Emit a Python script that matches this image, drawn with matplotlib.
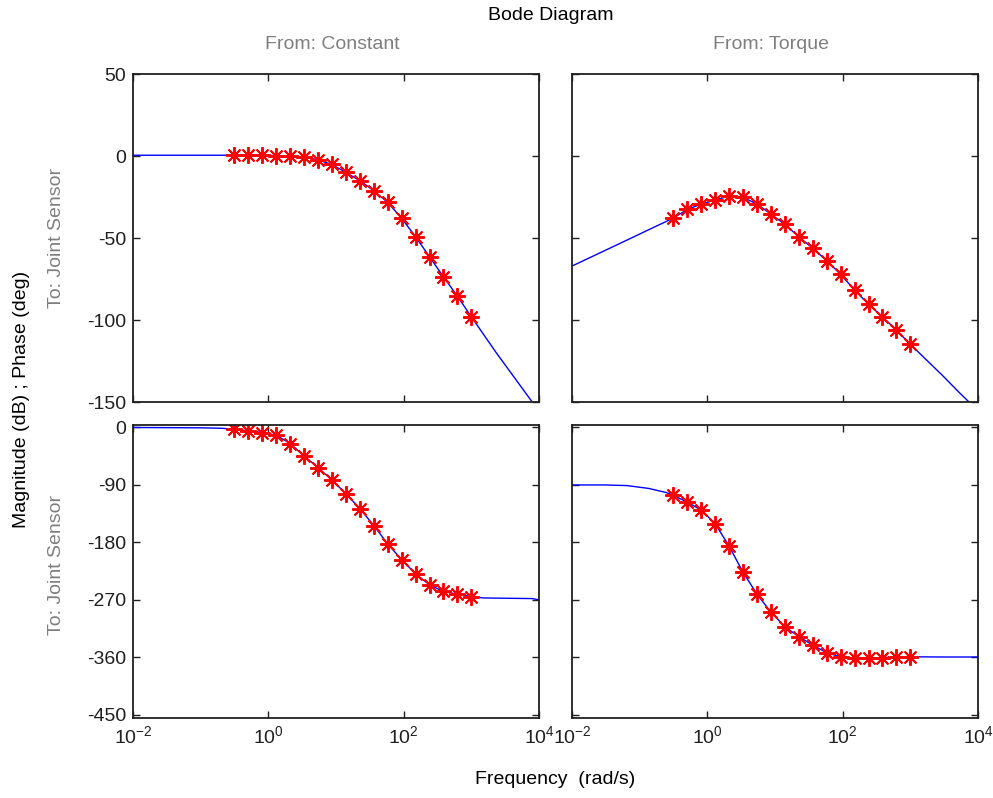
import matplotlib
matplotlib.use("Agg")
import matplotlib.pyplot as plt
from matplotlib.ticker import LogLocator, NullLocator

plt.rcParams['font.family'] = ['Liberation Sans', 'DejaVu Sans']
plt.rcParams['mathtext.default'] = 'regular'
plt.rcParams['axes.unicode_minus'] = False

# measured frequencies (rad/s) for the red stars
w_data = [0.316, 0.508, 0.816, 1.31, 2.11, 3.38, 5.43, 8.73, 14.0, 22.5,
          36.2, 58.2, 93.5, 150, 241, 387, 622, 1000]

# From: Constant -> magnitude (dB) and phase (deg)
mag_const = [0.5, 0.5, 0.4, 0.3, 0.0, -0.5, -2.4, -5.1, -10.0, -15.0,
             -21.1, -28.3, -38.0, -49.2, -61.4, -73.6, -85.4, -98.0]
ph_const = [-2.6, -5.2, -7.9, -12.1, -25.2, -44.6, -62.9, -82.3, -103.8, -126.9,
            -153.6, -182.5, -207.1, -229.2, -246.5, -256.9, -261.1, -264.8]

# From: Torque -> magnitude (dB) and phase (deg)
mag_torq = [-37.8, -32.5, -29.3, -26.8, -24.4, -25.2, -29.3, -35.4, -41.7, -49.2,
            -56.3, -63.8, -72.2, -81.7, -90.4, -98.0, -106.1, -114.8]
ph_torq = [-106.5, -116.9, -129.5, -151.0, -186.2, -227.1, -261.1, -289.5, -312.0, -327.7,
           -340.9, -352.9, -359.2, -361.8, -361.8, -360.3, -359.2, -359.2]

# model curves (blue), extra points outside the measured band
w_lo_c = [0.01, 0.1, 0.2]
mag_lo_c = [0.5, 0.5, 0.5]
w_hi_c = [2340, 4680, 7940, 10000]
mag_hi_c = [-120, -137, -150, -156]
ph_lo_c = [0.0, -0.5, -1.2]
w_hi_pc = [1500, 8000, 10000]
ph_hi_c = [-267, -268, -270]

w_lo_t = [0.01, 0.0646, 0.135]
mag_lo_t = [-67.1, -51.3, -45.0]
w_hi_t = [1738, 3020, 5370, 7586, 10000]
mag_hi_t = [-124.4, -134.0, -144.5, -150.5, -155.0]
w_lo_pt = [0.01, 0.03, 0.065, 0.135, 0.25]
ph_lo_t = [-90, -90, -91, -95.4, -102]
w_hi_pt = [3000, 10000]
ph_hi_t = [-359.5, -359.5]

fig = plt.figure(figsize=(9.93, 7.98), dpi=100)
ax_tl = fig.add_axes([0.1339, 0.4962, 0.4089, 0.4110])
ax_tr = fig.add_axes([0.5760, 0.4962, 0.4089, 0.4110])
ax_bl = fig.add_axes([0.1339, 0.1003, 0.4089, 0.3672])
ax_br = fig.add_axes([0.5760, 0.1003, 0.4089, 0.3672])

panels = [
    (ax_tl, w_lo_c, mag_lo_c, mag_const, w_hi_c, mag_hi_c),
    (ax_tr, w_lo_t, mag_lo_t, mag_torq, w_hi_t, mag_hi_t),
    (ax_bl, w_lo_c, ph_lo_c, ph_const, w_hi_pc, ph_hi_c),
    (ax_br, w_lo_pt, ph_lo_t, ph_torq, w_hi_pt, ph_hi_t),
]

star = (8, 2, 0)
for ax, wl, yl, yd, wh, yh in panels:
    ax.semilogx(wl + w_data + wh, yl + yd + yh, color='#0000ff', lw=1.0)
    ax.semilogx(w_data, yd, ls='none', marker=star, ms=12, mew=1.4, color='#ff0000')
    ax.set_xlim(1e-2, 1e4)
    ax.xaxis.set_major_locator(LogLocator(base=100))
    ax.xaxis.set_minor_locator(NullLocator())
    ax.tick_params(direction='in', length=5, width=1, top=True, right=True,
                   labelsize=14, colors='#202020', pad=5)
    for s in ax.spines.values():
        s.set_linewidth(1.3)
        s.set_color('#202020')

for ax in (ax_tl, ax_tr):
    ax.set_ylim(-150, 50)
    ax.set_yticks([50, 0, -50, -100, -150])
    ax.tick_params(labelbottom=False)
for ax in (ax_bl, ax_br):
    ax.set_ylim(-455, 4)
    ax.set_yticks([0, -90, -180, -270, -360, -450])
for ax in (ax_tr, ax_br):
    ax.tick_params(labelleft=False)

gray = '#7f7f7f'
fig.text(0.555, 0.981, 'Bode Diagram', ha='center', va='center', fontsize=14)
fig.text(0.335, 0.944, 'From: Constant', ha='center', va='center', fontsize=14, color=gray)
fig.text(0.776, 0.944, 'From: Torque', ha='center', va='center', fontsize=14, color=gray)
fig.text(0.022, 0.499, 'Magnitude (dB) ; Phase (deg)', rotation=90,
         ha='center', va='center', fontsize=14)
fig.text(0.057, 0.702, 'To: Joint Sensor', rotation=90, ha='center', va='center',
         fontsize=14, color=gray)
fig.text(0.057, 0.292, 'To: Joint Sensor', rotation=90, ha='center', va='center',
         fontsize=14, color=gray)
fig.text(0.559, 0.023, 'Frequency  (rad/s)', ha='center', va='center', fontsize=14)

fig.savefig('out.png', dpi=100)
